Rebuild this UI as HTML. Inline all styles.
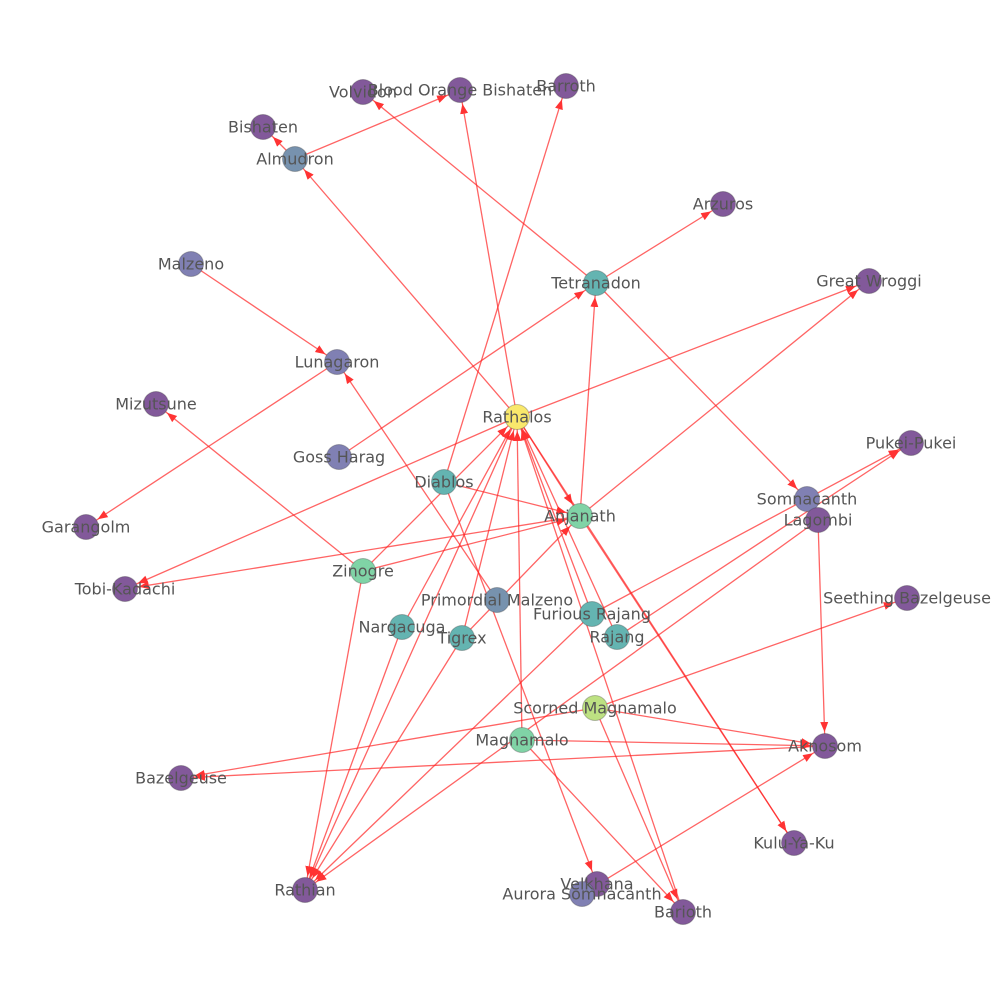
<!DOCTYPE html>
<html><head><meta charset="utf-8"><style>
html,body{margin:0;padding:0;background:#fff;}
svg text{font-family:"DejaVu Sans","Liberation Sans",sans-serif;font-size:16px;fill:#555;text-anchor:middle;dominant-baseline:central;}
</style></head><body>
<svg width="1000" height="1000" viewBox="0 0 1000 1000" xmlns="http://www.w3.org/2000/svg">
<defs>
<marker id="a" markerUnits="userSpaceOnUse" markerWidth="12" markerHeight="10" viewBox="0 0 12 10" refX="24" refY="5" orient="auto">
<path d="M0,1 L10,5 L0,9 Z" fill="#f33"/>
</marker>
</defs>
<g stroke="#f22" stroke-opacity="0.7" stroke-width="1.3" fill="none" marker-end="url(#a)">
<line x1="295" y1="159" x2="263" y2="127"/>
<line x1="295" y1="159" x2="460" y2="90"/>
<line x1="517" y1="417" x2="295" y2="159"/>
<line x1="596" y1="283" x2="363" y2="92"/>
<line x1="596" y1="283" x2="723" y2="204"/>
<line x1="517" y1="417" x2="460" y2="90"/>
<line x1="444" y1="482" x2="566" y2="86"/>
<line x1="191" y1="264" x2="337" y2="362"/>
<line x1="337" y1="362" x2="86" y2="527"/>
<line x1="339" y1="457" x2="596" y2="283"/>
<line x1="517" y1="417" x2="869" y2="281"/>
<line x1="580" y1="516" x2="869" y2="281"/>
<line x1="580" y1="516" x2="596" y2="283"/>
<line x1="596" y1="283" x2="807" y2="499"/>
<line x1="363" y1="571" x2="156" y2="404"/>
<line x1="517" y1="417" x2="125" y2="589"/>
<line x1="580" y1="516" x2="125" y2="589"/>
<line x1="444" y1="482" x2="580" y2="516"/>
<line x1="517" y1="417" x2="580" y2="516"/>
<line x1="363" y1="571" x2="580" y2="516"/>
<line x1="462" y1="638" x2="580" y2="516"/>
<line x1="517" y1="417" x2="794" y2="843"/>
<line x1="580" y1="516" x2="794" y2="843"/>
<line x1="363" y1="571" x2="517" y2="417"/>
<line x1="402" y1="627" x2="517" y2="417"/>
<line x1="462" y1="638" x2="517" y2="417"/>
<line x1="592" y1="614" x2="517" y2="417"/>
<line x1="617" y1="637" x2="517" y2="417"/>
<line x1="522" y1="740" x2="517" y2="417"/>
<line x1="683" y1="912" x2="517" y2="417"/>
<line x1="497" y1="600" x2="337" y2="362"/>
<line x1="444" y1="482" x2="597" y2="884"/>
<line x1="517" y1="417" x2="305" y2="890"/>
<line x1="363" y1="571" x2="305" y2="890"/>
<line x1="402" y1="627" x2="305" y2="890"/>
<line x1="462" y1="638" x2="305" y2="890"/>
<line x1="818" y1="520" x2="305" y2="890"/>
<line x1="592" y1="614" x2="305" y2="890"/>
<line x1="592" y1="614" x2="911" y2="443"/>
<line x1="617" y1="637" x2="911" y2="443"/>
<line x1="595" y1="708" x2="907" y2="598"/>
<line x1="595" y1="708" x2="825" y2="746"/>
<line x1="522" y1="740" x2="825" y2="746"/>
<line x1="818" y1="520" x2="825" y2="746"/>
<line x1="582" y1="894" x2="825" y2="746"/>
<line x1="595" y1="708" x2="181" y2="778"/>
<line x1="825" y1="746" x2="181" y2="778"/>
<line x1="522" y1="740" x2="683" y2="912"/>
<line x1="595" y1="708" x2="683" y2="912"/>
</g>
<g stroke="#333" stroke-opacity="0.3" stroke-width="1">
<circle cx="363" cy="92" r="12.5" fill="#82599a"/>
<circle cx="460" cy="90" r="12.5" fill="#82599a"/>
<circle cx="566" cy="86" r="12.5" fill="#82599a"/>
<circle cx="263" cy="127" r="12.5" fill="#82599a"/>
<circle cx="295" cy="159" r="12.5" fill="#7792ae"/>
<circle cx="723" cy="204" r="12.5" fill="#82599a"/>
<circle cx="191" cy="264" r="12.5" fill="#8080b3"/>
<circle cx="596" cy="283" r="12.5" fill="#64b4b1"/>
<circle cx="869" cy="281" r="12.5" fill="#82599a"/>
<circle cx="337" cy="362" r="12.5" fill="#8080b3"/>
<circle cx="156" cy="404" r="12.5" fill="#82599a"/>
<circle cx="517" cy="417" r="12.5" fill="#f9e86c"/>
<circle cx="339" cy="457" r="12.5" fill="#8080b3"/>
<circle cx="911" cy="443" r="12.5" fill="#82599a"/>
<circle cx="444" cy="482" r="12.5" fill="#64b4b1"/>
<circle cx="807" cy="499" r="12.5" fill="#8080b3"/>
<circle cx="818" cy="520" r="12.5" fill="#82599a"/>
<circle cx="86" cy="527" r="12.5" fill="#82599a"/>
<circle cx="580" cy="516" r="12.5" fill="#80d3a6"/>
<circle cx="363" cy="571" r="12.5" fill="#80d3a6"/>
<circle cx="125" cy="589" r="12.5" fill="#82599a"/>
<circle cx="497" cy="600" r="12.5" fill="#7792ae"/>
<circle cx="907" cy="598" r="12.5" fill="#82599a"/>
<circle cx="592" cy="614" r="12.5" fill="#64b4b1"/>
<circle cx="402" cy="627" r="12.5" fill="#64b4b1"/>
<circle cx="462" cy="638" r="12.5" fill="#64b4b1"/>
<circle cx="617" cy="637" r="12.5" fill="#64b4b1"/>
<circle cx="595" cy="708" r="12.5" fill="#bde182"/>
<circle cx="522" cy="740" r="12.5" fill="#80d3a6"/>
<circle cx="825" cy="746" r="12.5" fill="#82599a"/>
<circle cx="181" cy="778" r="12.5" fill="#82599a"/>
<circle cx="794" cy="843" r="12.5" fill="#82599a"/>
<circle cx="305" cy="890" r="12.5" fill="#82599a"/>
<circle cx="597" cy="884" r="12.5" fill="#82599a"/>
<circle cx="582" cy="894" r="12.5" fill="#8080b3"/>
<circle cx="683" cy="912" r="12.5" fill="#82599a"/>
</g>
<g>
<text x="363" y="92">Volvidon</text>
<text x="460" y="90">Blood Orange Bishaten</text>
<text x="566" y="86">Barroth</text>
<text x="263" y="127">Bishaten</text>
<text x="295" y="159">Almudron</text>
<text x="723" y="204">Arzuros</text>
<text x="191" y="264">Malzeno</text>
<text x="596" y="283">Tetranadon</text>
<text x="869" y="281">Great Wroggi</text>
<text x="337" y="362">Lunagaron</text>
<text x="156" y="404">Mizutsune</text>
<text x="517" y="417">Rathalos</text>
<text x="339" y="457">Goss Harag</text>
<text x="911" y="443">Pukei-Pukei</text>
<text x="444" y="482">Diablos</text>
<text x="807" y="499">Somnacanth</text>
<text x="818" y="520">Lagombi</text>
<text x="86" y="527">Garangolm</text>
<text x="580" y="516">Anjanath</text>
<text x="363" y="571">Zinogre</text>
<text x="125" y="589">Tobi-Kadachi</text>
<text x="497" y="600">Primordial Malzeno</text>
<text x="907" y="598">Seething Bazelgeuse</text>
<text x="592" y="614">Furious Rajang</text>
<text x="402" y="627">Nargacuga</text>
<text x="462" y="638">Tigrex</text>
<text x="617" y="637">Rajang</text>
<text x="595" y="708">Scorned Magnamalo</text>
<text x="522" y="740">Magnamalo</text>
<text x="825" y="746">Aknosom</text>
<text x="181" y="778">Bazelgeuse</text>
<text x="794" y="843">Kulu-Ya-Ku</text>
<text x="305" y="890">Rathian</text>
<text x="597" y="884">Velkhana</text>
<text x="582" y="894">Aurora Somnacanth</text>
<text x="683" y="912">Barioth</text>
</g>
</svg>
</body></html>
